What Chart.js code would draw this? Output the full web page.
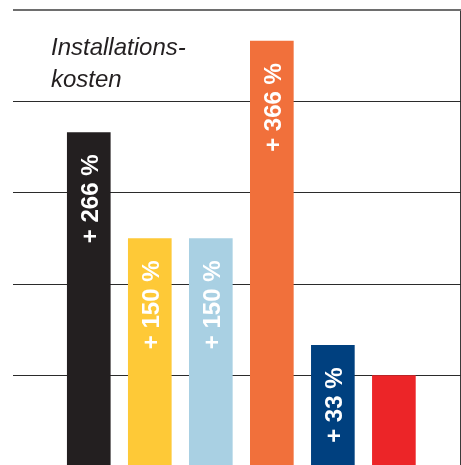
<!DOCTYPE html>
<html>
<head>
<meta charset="utf-8">
<script src="https://cdn.jsdelivr.net/npm/chart.js@4"></script>
<style>
  html, body { margin: 0; padding: 0; background: #fff; overflow: hidden; }
  #wrap { position: relative; width: 461px; height: 470px; }
</style>
</head>
<body>
<div id="wrap"><canvas id="costChart"></canvas></div>
<script>
/* --------------- Data --------------------- */
const titleLines = ["Installations-", "kosten"];
const values = [366, 250, 250, 466, 133, 100];
const pctLabels = ["+ 266 %", "+ 150 %", "+ 150 %", "+ 366 %", "+ 33 %", ""];
const barColors = ["#231f20", "#fec937", "#a9d0e3", "#f1703b", "#00407f", "#ec2528"];

/* --------------- Title in the top left corner --------------------- */
const titlePlugin = {
  id: "cornerTitle",
  afterDraw(chart) {
    const ctx = chart.ctx;
    ctx.save();
    ctx.fillStyle = "#231f20";
    ctx.font = "italic 24px 'Liberation Sans', Arial, sans-serif";
    ctx.textBaseline = "alphabetic";
    titleLines.forEach((line, i) => ctx.fillText(line, 51, 55 + i * 32));
    ctx.restore();
  },
};

/* --------------- Rotated labels inside the bars --------------------- */
const barLabelPlugin = {
  id: "barLabels",
  afterDatasetsDraw(chart) {
    const ctx = chart.ctx;
    const meta = chart.getDatasetMeta(0);
    ctx.save();
    ctx.fillStyle = "#ffffff";
    ctx.font = "bold 24px 'Liberation Sans', Arial, sans-serif";
    ctx.textAlign = "right";
    ctx.textBaseline = "alphabetic";
    meta.data.forEach((bar, i) => {
      if (!pctLabels[i]) return;
      ctx.save();
      ctx.translate(bar.x + 9, bar.y + 22);
      ctx.rotate(-Math.PI / 2);
      ctx.fillText(pctLabels[i], 0, 0);
      ctx.restore();
    });
    ctx.restore();
  },
};

/* --------------- Chart --------------------- */
new Chart(document.getElementById("costChart"), {
  type: "bar",
  plugins: [titlePlugin, barLabelPlugin],
  data: {
    datasets: [
      {
        data: values.map((v, i) => ({ x: i + 1, y: v })),
        backgroundColor: barColors,
        borderWidth: 0,
        barThickness: 43,
      },
    ],
  },
  options: {
    responsive: true,
    maintainAspectRatio: false,
    animation: false,
    layout: { padding: { left: 12.5, top: 10, right: 0, bottom: 3 } },
    plugins: {
      legend: { display: false },
      tooltip: { enabled: false },
    },
    scales: {
      // x axis only draws one grid line: the left edge of the plot
      x: {
        type: "linear",
        min: -0.25,
        max: 7.1,
        offset: false,
        afterBuildTicks: (scale) => {
          scale.ticks = scale.ticks.filter((t) => t.value === scale.min);
        },
        ticks: { display: false },
        grid: { drawTicks: false, color: "#3a3a3a", lineWidth: 2 },
        border: { display: false },
      },
      y: {
        min: 0,
        max: 500,
        ticks: { display: false, stepSize: 100 },
        grid: {
          drawTicks: false,
          color: (c) => (c.tick && c.tick.value === 500 ? "#6e6e6e" : "#2b2b2b"),
          lineWidth: (c) => (c.tick && c.tick.value === 500 ? 2 : 1),
        },
        border: { display: false },
      },
    },
  },
});
</script>
</body>
</html>
